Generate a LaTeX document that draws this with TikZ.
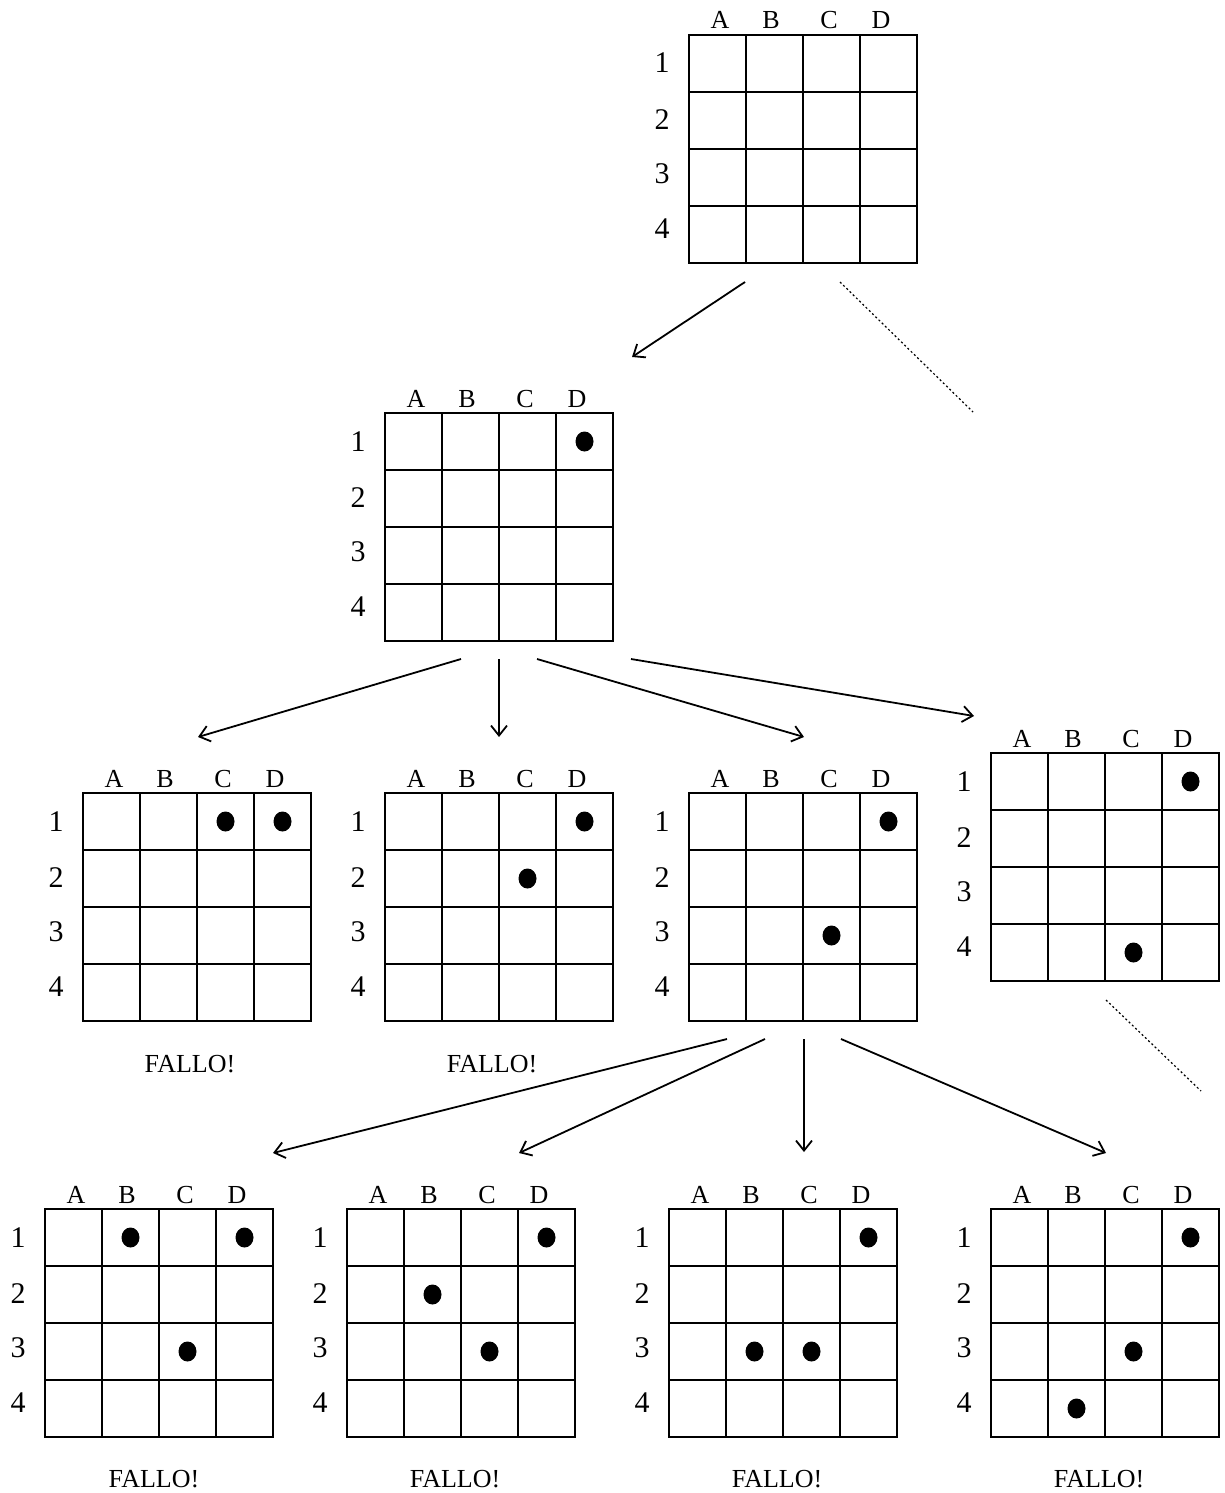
\documentclass[tikz,border=0pt]{standalone}
\usepackage{fontspec}
\setmainfont{Liberation Serif}
\usetikzlibrary{arrows.meta}
\tikzset{
  gridline/.style={line width=2pt},
  colLab/.style={anchor=base, font=\fontsize{26}{30}\selectfont, inner sep=0pt},
  rowLab/.style={anchor=base, font=\fontsize{30}{34}\selectfont, inner sep=0pt},
  fallo/.style={anchor=base, font=\fontsize{26}{30}\selectfont, inner sep=0pt},
  arr/.style={line width=1.8pt, -{Straight Barb[length=10pt,width=16pt]}},
  etc/.style={line width=1.2pt, dash pattern=on 2pt off 2.5pt},
}
\newcommand{\board}[3]{%
  \begin{scope}[shift={(#2,#3)}]
    \node[draw, gridline, minimum size=228pt, inner sep=0pt, outer sep=0pt, anchor=north west] (#1) at (0,0) {};
    \foreach \k in {1,2,3} {
      \draw[gridline] (57*\k,0) -- (57*\k,228);
      \draw[gridline] (0,57*\k) -- (228,57*\k);
    }
    \foreach \l/\x in {A/31,B/82,C/140,D/192} \node[colLab] (#1-\l) at (\x,-6) {\l};
    \foreach \r/\y in {1/38,2/94,3/148,4/203} \node[rowLab] (#1-r\r) at (-27,\y) {\r};
  \end{scope}}
\newcommand{\queens}[3]{%
  \begin{scope}[shift={(#1,#2)}]
    \foreach \c/\r in {#3} \fill (57*\c-28.5,57*\r-28.5) ellipse [x radius=9pt, y radius=10pt];
  \end{scope}}
\begin{document}
\begin{tikzpicture}[x=1pt,y=-1pt]
\useasboundingbox (0,0) rectangle (1225,1493);
% boards
\board{top}{689}{35}
\board{lv2}{385}{413}
\queens{385}{413}{4/1}
\board{g1}{83}{793}
\queens{83}{793}{3/1,4/1}
\board{g2}{385}{793}
\queens{385}{793}{4/1,3/2}
\board{g3}{689}{793}
\queens{689}{793}{4/1,3/3}
\board{g4}{991}{753}
\queens{991}{753}{4/1,3/4}
\board{h1}{45}{1209}
\queens{45}{1209}{2/1,4/1,3/3}
\board{h2}{347}{1209}
\queens{347}{1209}{4/1,2/2,3/3}
\board{h3}{669}{1209}
\queens{669}{1209}{4/1,2/3,3/3}
\board{h4}{991}{1209}
\queens{991}{1209}{4/1,3/3,2/4}
% labels
\node[fallo] (f1) at (190,1072) {FALLO!};
\node[fallo] (f2) at (492,1072) {FALLO!};
\node[fallo] (f3) at (154,1487) {FALLO!};
\node[fallo] (f4) at (455,1487) {FALLO!};
\node[fallo] (f5) at (777,1487) {FALLO!};
\node[fallo] (f6) at (1099,1487) {FALLO!};
% connector end points
\coordinate (t-s1) at (745,282);
\coordinate (t-e1) at (632,357);
\coordinate (t-s2) at (840,282);
\coordinate (t-e2) at (973,412);
\coordinate (l-s1) at (461,659);
\coordinate (l-e1) at (198,737);
\coordinate (l-s2) at (499,659);
\coordinate (l-e2) at (499,737);
\coordinate (l-s3) at (537,659);
\coordinate (l-e3) at (804,737);
\coordinate (l-s4) at (631,659);
\coordinate (l-e4) at (974,716);
\coordinate (g4-s) at (1106,1000);
\coordinate (g4-e) at (1201,1091);
\coordinate (m-s1) at (727,1039);
\coordinate (m-e1) at (273,1153);
\coordinate (m-s2) at (765,1039);
\coordinate (m-e2) at (519,1153);
\coordinate (m-s3) at (804,1039);
\coordinate (m-e3) at (804,1152);
\coordinate (m-s4) at (841,1039);
\coordinate (m-e4) at (1106,1153);
% connectors
\draw[arr] (t-s1) -- (t-e1);
\draw[etc] (t-s2) -- (t-e2);
\draw[arr] (l-s1) -- (l-e1);
\draw[arr] (l-s2) -- (l-e2);
\draw[arr] (l-s3) -- (l-e3);
\draw[arr] (l-s4) -- (l-e4);
\draw[etc] (g4-s) -- (g4-e);
\draw[arr] (m-s1) -- (m-e1);
\draw[arr] (m-s2) -- (m-e2);
\draw[arr] (m-s3) -- (m-e3);
\draw[arr] (m-s4) -- (m-e4);
\end{tikzpicture}
\end{document}
